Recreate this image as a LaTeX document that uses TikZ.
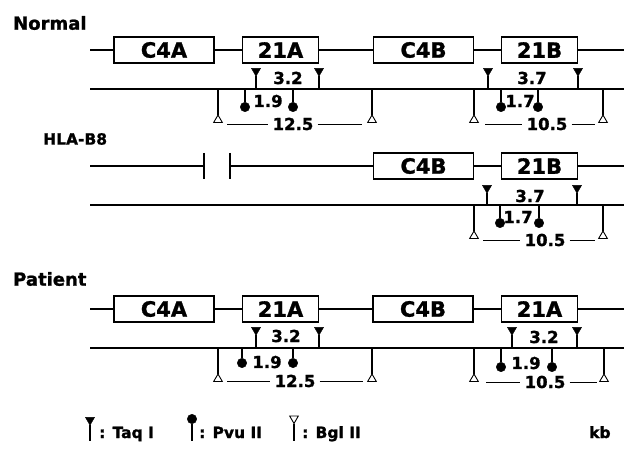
\documentclass[tikz,border=0pt]{standalone}
\usepackage{fontspec}
\setmainfont{DejaVu Sans}[BoldFeatures={FakeBold=1.2}]
\usepackage{tikz}
\usetikzlibrary{shapes.geometric,calc}
\newcommand\GeneSize{\fontsize{21}{23}\selectfont\bfseries}
\newcommand\KbSize{\fontsize{16.5}{18}\selectfont\bfseries}
\newcommand\HlaSize{\fontsize{15.5}{17}\selectfont\bfseries}
\newcommand\RowSize{\fontsize{18}{20}\selectfont\bfseries}
\newcommand\KeySize{\fontsize{15.5}{17}\selectfont\bfseries}
\tikzset{
  genebox/.style={
    shape = rectangle,
    draw,
    line width = 1.2pt,
    minimum height = 26pt,
    inner sep = 0pt,
    font = \GeneSize
  },
  cfour/.style={genebox, minimum width = 100pt},
  cyp/.style={genebox, minimum width = 76pt},
}
\tikzset{
  taq/.style={
    regular polygon,
    regular polygon sides = 3,
    regular polygon rotate = 180,
    draw,
    fill,
    inner sep = 0pt,
    outer sep = 0pt,
    minimum size = 10.5pt
  },
  pvu/.style={
    shape = circle,
    draw,
    fill,
    inner sep = 0pt,
    outer sep = 0pt,
    minimum size = 9.5pt
  },
  bgl/.style={
    regular polygon,
    regular polygon sides = 3,
    draw,
    fill = white,
    line width = 0.9pt,
    inner sep = 0pt,
    outer sep = 0pt,
    minimum size = 10pt
  },
}
\tikzset{
  chrom/.style={line width = 1.2pt},
  site/.style={line width = 1.2pt},
  dimline/.style={line width = 0.9pt},
  kb/.style={
    font = \KbSize,
    inner sep = 4pt
  },
  rowlabel/.style={
    anchor = west,
    font = \RowSize,
    inner sep = 0pt
  },
  hlalabel/.style={
    anchor = west,
    font = \HlaSize,
    inner sep = 0pt
  },
  key/.style={
    anchor = base west,
    font = \KeySize,
    inner sep = 0pt
  }
}

\begin{document}
\begin{tikzpicture}[x=1pt, y=-1pt]
    \useasboundingbox (0,0) rectangle (624,449);

    % Normal
    \node[rowlabel] (normal) at (13,23) {Normal};
    \coordinate (nL) at (90,50);
    \coordinate (nR) at (624,50);
    \node[cfour] (nC4A) at (164,50) {C4A};
    \node[cyp] (n21A) at (280.5,50) {21A};
    \node[cfour] (nC4B) at (423.5,50) {C4B};
    \node[cyp] (n21B) at (539.5,50) {21B};
    \draw[chrom] (nL) -- (nC4A) -- (n21A) -- (nC4B) -- (n21B) -- (nR);
    \coordinate (nrL) at (90,89);
    \coordinate (nrR) at (624,89);
    \draw[chrom] (nrL) -- (nrR);
    \foreach \x [count=\i] in {256,319,488,578} {
      \node[taq] (ntaq\i) at (\x,71) {};
      \draw[site] (ntaq\i) -- (ntaq\i |- nrL);
    }
    \foreach \x [count=\i] in {245,293,501,538} {
      \node[pvu] (npvu\i) at (\x,107) {};
      \draw[site] (npvu\i) -- (npvu\i |- nrL);
    }
    \foreach \x [count=\i] in {218,372,474,603} {
      \node[bgl] (nbgl\i) at (\x,120) {};
      \draw[site] (nbgl\i) -- (nbgl\i |- nrL);
    }
    \node[kb] (n32) at (288,78) {3.2};
    \node[kb] (n19) at (268,101) {1.9};
    \node[kb] (n37) at (532,78) {3.7};
    \node[kb] (n17) at (520,101) {1.7};
    \node[kb] (n125) at (293,124) {12.5};
    \node[kb] (n105) at (547,124) {10.5};
    \draw[dimline, shorten <=9pt] (nbgl1 |- n125) -- (n125);
    \draw[dimline, shorten >=10pt] (n125) -- (nbgl2 |- n125);
    \draw[dimline, shorten <=11pt] (nbgl3 |- n105) -- (n105);
    \draw[dimline, shorten >=8pt] (n105) -- (nbgl4 |- n105);

    % HLA-B8
    \node[hlalabel] (hla) at (43,139) {HLA-B8};
    \coordinate (hL) at (90,166);
    \coordinate (hb1) at (204,166);
    \coordinate (hb2) at (230,166);
    \coordinate (hR) at (624,166);
    \node[cfour] (hC4B) at (423.5,166) {C4B};
    \node[cyp] (h21B) at (539.5,166) {21B};
    \draw[chrom] (hL) -- (hb1) ([yshift=13pt]hb1) -- ([yshift=-13pt]hb1)
      ([yshift=13pt]hb2) -- ([yshift=-13pt]hb2) (hb2) -- (hC4B) -- (h21B) -- (hR);
    \coordinate (hrL) at (90,205);
    \coordinate (hrR) at (624,205);
    \draw[chrom] (hrL) -- (hrR);
    \foreach \x [count=\i] in {487,577} {
      \node[taq] (htaq\i) at (\x,188) {};
      \draw[site] (htaq\i) -- (htaq\i |- hrL);
    }
    \foreach \x [count=\i] in {500,539} {
      \node[pvu] (hpvu\i) at (\x,223) {};
      \draw[site] (hpvu\i) -- (hpvu\i |- hrL);
    }
    \foreach \x [count=\i] in {474,603} {
      \node[bgl] (hbgl\i) at (\x,236) {};
      \draw[site] (hbgl\i) -- (hbgl\i |- hrL);
    }
    \node[kb] (h37) at (530,196) {3.7};
    \node[kb] (h17) at (518,217) {1.7};
    \node[kb] (h105) at (545,240) {10.5};
    \draw[dimline, shorten <=9pt] (hbgl1 |- h105) -- (h105);
    \draw[dimline, shorten >=8pt] (h105) -- (hbgl2 |- h105);

    % Patient
    \node[rowlabel] (patient) at (13,279) {Patient};
    \coordinate (pL) at (90,309);
    \coordinate (pR) at (624,309);
    \node[cfour] (pC4A) at (164,309) {C4A};
    \node[cyp] (p21A) at (280.5,309) {21A};
    \node[cfour] (pC4B) at (423,309) {C4B};
    \node[cyp] (p21Ab) at (539.5,309) {21A};
    \draw[chrom] (pL) -- (pC4A) -- (p21A) -- (pC4B) -- (p21Ab) -- (pR);
    \coordinate (prL) at (90,348);
    \coordinate (prR) at (624,348);
    \draw[chrom] (prL) -- (prR);
    \foreach \x [count=\i] in {256,319,512,577} {
      \node[taq] (ptaq\i) at (\x,330) {};
      \draw[site] (ptaq\i) -- (ptaq\i |- prL);
    }
    \foreach \x/\y [count=\i] in {242/363,293/363,501/367,552/367} {
      \node[pvu] (ppvu\i) at (\x,\y) {};
      \draw[site] (ppvu\i) -- (ppvu\i |- prL);
    }
    \foreach \x [count=\i] in {218,372,474,604} {
      \node[bgl] (pbgl\i) at (\x,379) {};
      \draw[site] (pbgl\i) -- (pbgl\i |- prL);
    }
    \node[kb] (p32) at (286,336) {3.2};
    \node[kb] (p19) at (267,362) {1.9};
    \node[kb] (p125) at (295,381) {12.5};
    \node[kb] (p32b) at (544,337) {3.2};
    \node[kb] (p19b) at (526,363) {1.9};
    \node[kb] (p105) at (545,382) {10.5};
    \draw[dimline, shorten <=9pt] (pbgl1 |- p125) -- (p125);
    \draw[dimline, shorten >=9pt] (p125) -- (pbgl2 |- p125);
    \draw[dimline, shorten <=12pt] (pbgl3 |- p105) -- (p105);
    \draw[dimline, shorten >=7pt] (p105) -- (pbgl4 |- p105);

    % key
    \coordinate (keybase) at (0,441);
    \node[taq] (ktaq) at (90,420) {};
    \draw[site] (ktaq) -- (ktaq |- keybase);
    \node[key] (ktaqt) at (99,438) {: Taq I};
    \node[pvu] (kpvu) at (192,419) {};
    \draw[site] (kpvu) -- (kpvu |- keybase);
    \node[key] (kpvut) at (199,438) {: Pvu II};
    \node[bgl, regular polygon rotate = 180] (kbgl) at (294,418.5) {};
    \draw[site] (kbgl) -- (kbgl |- keybase);
    \node[key] (kbglt) at (302,438) {: Bgl II};
    \node[key] (kunit) at (589,438) {kb};
\end{tikzpicture}
\end{document}
